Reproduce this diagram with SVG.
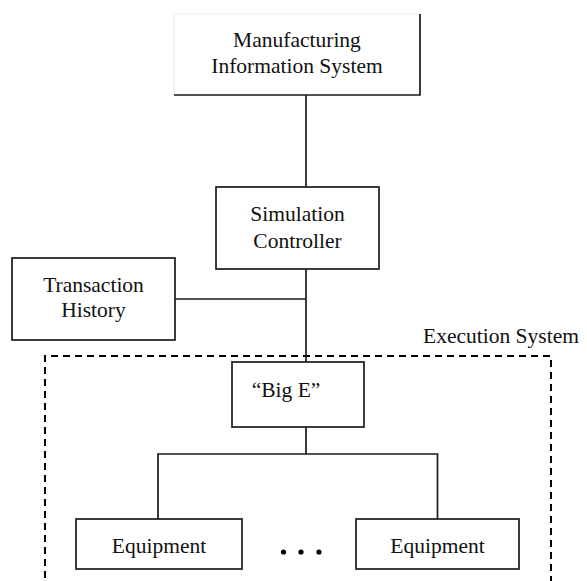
<svg xmlns="http://www.w3.org/2000/svg" width="587" height="581" viewBox="0 0 587 581">
<style>
.box{fill:#fff;stroke:#1a1a1a;stroke-width:1.7}
.ln{fill:none;stroke:#1a1a1a;stroke-width:1.7}
.dash{fill:none;stroke:#000;stroke-width:2;stroke-dasharray:7 5}
.t{font-family:'Liberation Serif','Times New Roman',Tinos,'DejaVu Serif',serif;font-size:21.5px;fill:#111;text-anchor:middle}
</style>
<rect width="587" height="581" fill="#fff"/>
<g id="execution-system">
<path class="dash" d="M45,590 V356 H551 V590"/>
<text class="t" font-family="Liberation Serif, serif" x="501" y="343">Execution System</text>
</g>
<g id="connectors">
<path class="ln" d="M306,95 V187"/>
<path class="ln" d="M306,269 V362"/>
<path class="ln" d="M175,299 H306"/>
<path class="ln" d="M306,427 V454 M158,519 V454 H437.5 V519"/>
</g>
<g id="mis">
<rect x="174" y="14" width="246" height="81" fill="#fff"/>
<path d="M174,95 V14 H420" fill="none" stroke="#ececec" stroke-width="1"/>
<path class="ln" d="M420,14 V95 H174"/>
<text class="t" x="297" y="47">Manufacturing</text>
<text class="t" x="297" y="73">Information System</text>
</g>
<g id="simulation-controller">
<rect class="box" x="216" y="187" width="163" height="82"/>
<text class="t" x="297.5" y="221">Simulation</text>
<text class="t" x="297.5" y="248">Controller</text>
</g>
<g id="transaction-history">
<rect class="box" x="12" y="258" width="163" height="82"/>
<text class="t" x="93.5" y="292">Transaction</text>
<text class="t" x="93.5" y="317">History</text>
</g>
<g id="big-e">
<rect class="box" x="232" y="362" width="132" height="65"/>
<text class="t" x="286" y="397">“Big E”</text>
</g>
<g id="equipment-1">
<rect class="box" x="76" y="519" width="166" height="50"/>
<text class="t" x="159" y="553">Equipment</text>
</g>
<g id="ellipsis">
<circle cx="283.5" cy="552" r="2.6" fill="#000"/>
<circle cx="301" cy="552" r="2.6" fill="#000"/>
<circle cx="319" cy="552" r="2.6" fill="#000"/>
</g>
<g id="equipment-2">
<rect class="box" x="356" y="519" width="163" height="50"/>
<text class="t" x="437.5" y="553">Equipment</text>
</g>
</svg>
